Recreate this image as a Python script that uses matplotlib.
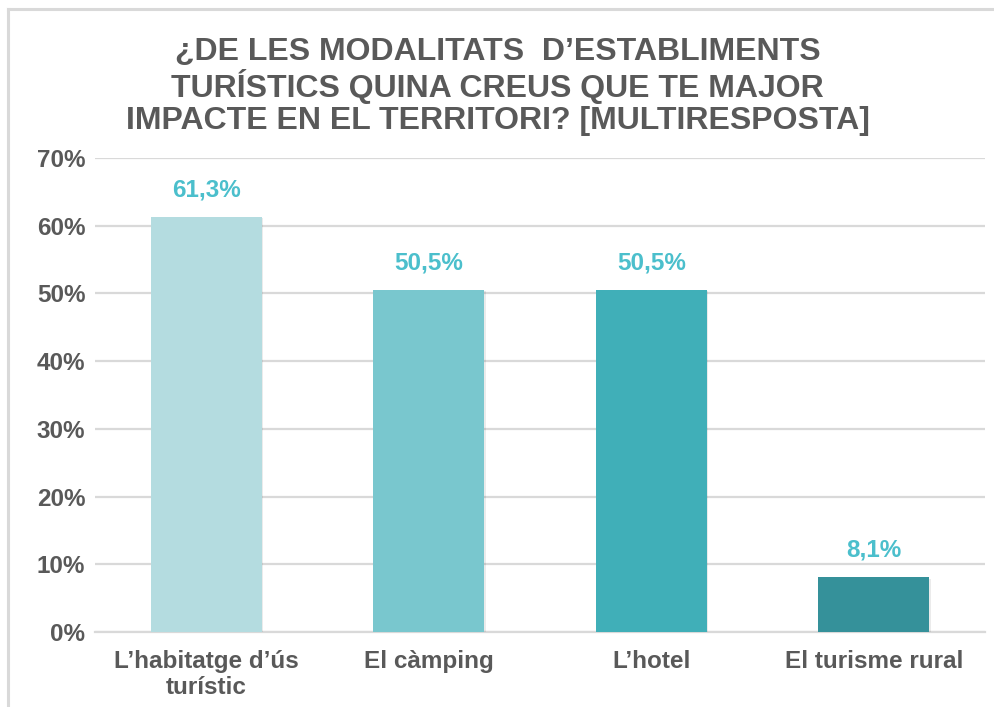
import matplotlib
matplotlib.use("Agg")
import matplotlib.pyplot as plt
from matplotlib import patheffects as pe
from matplotlib.lines import Line2D
from matplotlib.ticker import FuncFormatter, MultipleLocator

categories = ["L\u2019habitatge d\u2019\u00fas\ntur\u00edstic", "El c\u00e0mping", "L\u2019hotel", "El turisme rural"]
values = [61.3, 50.5, 50.5, 8.1]
value_labels = ["61,3%", "50,5%", "50,5%", "8,1%"]
bar_colors = ["#B4DCE0", "#79C7CE", "#40AFB8", "#35919A"]
title = ("\u00bfDE LES MODALITATS  D\u2019ESTABLIMENTS\n"
         "TUR\u00cdSTICS QUINA CREUS QUE TE MAJOR\n"
         "IMPACTE EN EL TERRITORI? [MULTIRESPOSTA]")

text_gray = "#595959"
label_teal = "#4BBFCC"
grid_gray = "#D9D9D9"
fonts = ["Liberation Sans", "DejaVu Sans"]

fig = plt.figure(figsize=(9.95, 7.07), dpi=100)
ax = fig.add_axes([0.0955, 0.1061, 0.8945, 0.6704])

x = list(range(len(categories)))
bars = ax.bar(x, values, width=0.5, color=bar_colors, zorder=3)
for b in bars:
    b.set_path_effects([
        pe.SimplePatchShadow(offset=(0, 0), shadow_rgbFace="#000000", alpha=0.06),
        pe.SimplePatchShadow(offset=(1, -1), shadow_rgbFace="#000000", alpha=0.08),
        pe.Normal(),
    ])

for xi, v, lab in zip(x, values, value_labels):
    ax.annotate(lab, (xi, v), xytext=(0, 11), textcoords="offset points",
                ha="center", va="bottom", fontsize=17.5, fontweight="bold",
                color=label_teal, family=fonts)

ax.set_ylim(0, 70)
ax.set_xlim(-0.5, len(categories) - 0.5)
ax.yaxis.set_major_locator(MultipleLocator(10))
ax.yaxis.set_major_formatter(FuncFormatter(lambda v, p: f"{v:.0f}%"))
ax.grid(axis="y", color=grid_gray, linewidth=1.6, zorder=0)
ax.set_axisbelow(True)
for s in ["top", "right", "left"]:
    ax.spines[s].set_visible(False)
ax.spines["bottom"].set_color(grid_gray)
ax.spines["bottom"].set_linewidth(1.6)
ax.tick_params(axis="both", length=0)
ax.tick_params(axis="y", pad=7)
ax.tick_params(axis="x", pad=13)
ax.set_xticks(x)
ax.set_xticklabels(categories, linespacing=1.15)
for t in ax.get_xticklabels() + ax.get_yticklabels():
    t.set_fontsize(17.5)
    t.set_fontweight("bold")
    t.set_color(text_gray)
    t.set_family(fonts)

fig.text(0.5, 0.878, title, ha="center", va="center", fontsize=23,
         fontweight="bold", color=text_gray, linespacing=1.08,
         family=fonts)

# outer chart frame (top and left edges)
fig.add_artist(Line2D([8 / 995, 1.0], [1 - 8.5 / 707] * 2, transform=fig.transFigure,
                      color="#D9D9D9", linewidth=2.2))
fig.add_artist(Line2D([8 / 995] * 2, [1 - 8.5 / 707, 0.0], transform=fig.transFigure,
                      color="#D9D9D9", linewidth=2.2))

fig.savefig("out.png", dpi=100)
